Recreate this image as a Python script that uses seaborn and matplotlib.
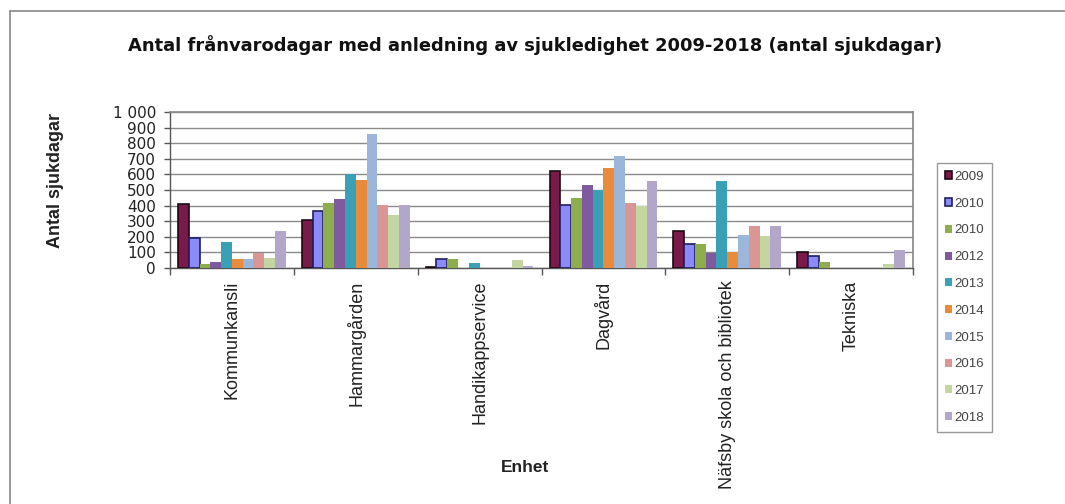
import matplotlib
matplotlib.use("Agg")
import matplotlib.pyplot as plt
import seaborn as sns
import pandas as pd
import numpy as np
from matplotlib.ticker import FixedLocator, FuncFormatter

# ---- data ----
categories = ["Kommunkansli", "Hammargården", "Handikappservice", "Dagvård",
              "Näfsby skola och bibliotek", "Tekniska"]
series_labels = ["2009", "2010", "2010", "2012", "2013", "2014", "2015", "2016", "2017", "2018"]
v2009  = [410, 310,   8, 625, 235, 104]
v2010  = [195, 368,  55, 402, 157,  76]
v2010b = [ 28, 418,  55, 451, 153,  41]
v2012  = [ 38, 445,   0, 535,  99,   0]
v2013  = [166, 605,  35, 501, 555,   0]
v2014  = [ 55, 563,   0, 643, 104,   0]
v2015  = [ 55, 860,   0, 720, 214,   0]
v2016  = [ 95, 402,   0, 418, 272,   0]
v2017  = [ 67, 341,  52, 398, 207,  24]
v2018  = [240, 406,  13, 558, 268, 117]
values = [v2009, v2010, v2010b, v2012, v2013, v2014, v2015, v2016, v2017, v2018]
yticks = [0, 100, 200, 300, 400, 500, 600, 700, 800, 900, 1000]

colors = ["#7A1A4A", "#8A8AF8", "#8EAE4E", "#7F5A9E", "#3AA0B5",
          "#E88C3C", "#9AB6DA", "#D99694", "#C4D6A0", "#B2A6CA"]
edges = ["#1A0A12", "#1F1F60"] + [None] * 8

series_keys = [f"s{i}" for i in range(len(series_labels))]
rows = []
for key, vals in zip(series_keys, values):
    for cat, v in zip(categories, vals):
        rows.append({"Enhet": cat, "serie": key, "dagar": v})
df = pd.DataFrame(rows)

# ---- figure ----
sns.set_theme(style="white")
plt.rcParams["font.family"] = ["Liberation Sans", "DejaVu Sans"]

fig = plt.figure(figsize=(10.65, 5.04), dpi=100)
ax = fig.add_axes([170 / 1065, 1 - 268 / 504, (913 - 170) / 1065, (268 - 112) / 504])

sns.barplot(data=df, x="Enhet", y="dagar", hue="serie", hue_order=series_keys,
            order=categories, palette=dict(zip(series_keys, colors)),
            width=0.87, dodge=True, saturation=1, legend=False, ax=ax, zorder=3)

for cont, ec in zip(ax.containers, edges):
    for p in cont.patches:
        if ec is not None:
            p.set_edgecolor(ec)
            p.set_linewidth(1.2)
        else:
            p.set_linewidth(0)

ax.set_ylim(0, 1000)
ax.set_xlim(-0.5, len(categories) - 0.5)
ax.yaxis.set_major_locator(FixedLocator(yticks))
ax.yaxis.set_major_formatter(FuncFormatter(lambda v, p: f"{int(v):,}".replace(",", " ")))
ax.grid(axis="y", color="#8a8a8a", linewidth=1.0, zorder=0)
ax.set_axisbelow(True)

for s in ["left", "bottom"]:
    ax.spines[s].set_color("#555555")
    ax.spines[s].set_linewidth(1.0)
ax.spines["right"].set_color("#8a8a8a")
ax.spines["top"].set_color("#8a8a8a")

ax.tick_params(axis="y", which="major", left=True, length=4, width=1, color="#555555",
               labelsize=11, pad=6, labelcolor="#222222")
for t in ax.get_yticklabels():
    t.set_fontfamily("DejaVu Sans")
ax.set_xticks(np.arange(len(categories)))
ax.set_xticklabels(categories, rotation=90, va="top", ha="center", fontsize=13, color="#222222")
ax.xaxis.set_minor_locator(FixedLocator(np.arange(-0.5, len(categories), 1.0)))
ax.tick_params(axis="x", which="major", bottom=False, length=0, pad=9)
ax.tick_params(axis="x", which="minor", bottom=True, length=5, width=1, color="#555555")

ax.set_xlabel("")
ax.set_ylabel("")
fig.text(525 / 1065, 1 - 467 / 504, "Enhet", ha="center", va="center",
         fontsize=12.5, fontweight="bold", color="#222222")
fig.text(55 / 1065, 1 - 181 / 504, "Antal sjukdagar", ha="center", va="center",
         rotation=90, fontsize=13, fontweight="bold", color="#222222")
fig.text(535 / 1065, 1 - 45 / 504,
         "Antal frånvarodagar med anledning av sjukledighet 2009-2018 (antal sjukdagar)",
         ha="center", va="center", fontsize=12.85, fontweight="bold", color="#111111",
         family=["DejaVu Sans"])

leg = fig.legend(ax.containers, series_labels, loc="upper left",
                 bbox_to_anchor=(937 / 1065, 1 - 163 / 504), frameon=True, fancybox=False,
                 fontsize=9.5, handlelength=0.55, handleheight=0.55, handletextpad=0.15,
                 labelspacing=1.12, borderpad=0.6, borderaxespad=0)
leg.get_frame().set_edgecolor("#808080")
leg.get_frame().set_linewidth(1.0)
for t in leg.get_texts():
    t.set_color("#444444")

# outer chart frame (left and top edges visible)
fig.add_artist(plt.Line2D([10 / 1065, 10 / 1065], [0, 1 - 11 / 504], transform=fig.transFigure,
                          color="#888888", linewidth=1.2))
fig.add_artist(plt.Line2D([10 / 1065, 1], [1 - 11 / 504, 1 - 11 / 504], transform=fig.transFigure,
                          color="#888888", linewidth=1.2))

fig.savefig("out.png", dpi=100)
